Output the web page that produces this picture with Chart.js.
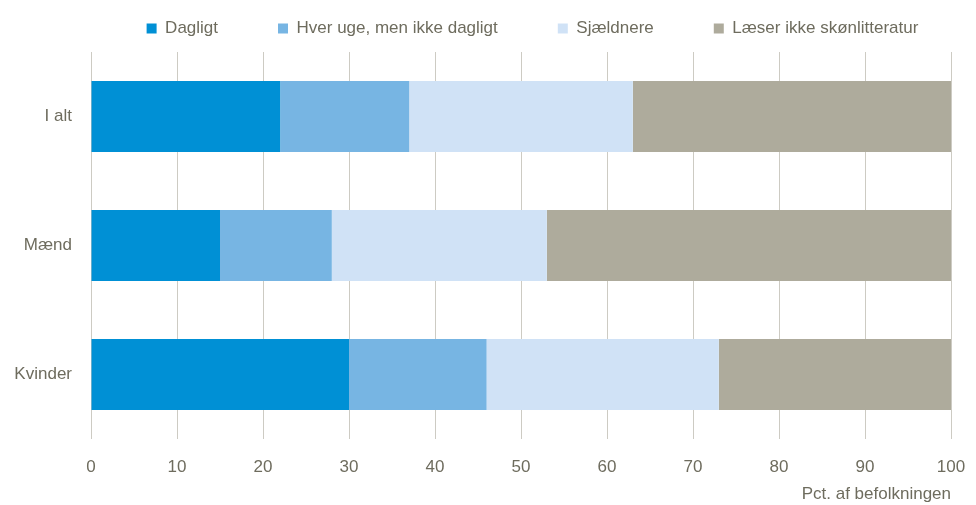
<!DOCTYPE html>
<html>
<head>
<meta charset="utf-8">
<script src="https://cdn.jsdelivr.net/npm/chart.js@4"></script>
<style>
  html, body { margin: 0; padding: 0; background: #fff; }
  #wrap { width: 976px; height: 505px; }
</style>
</head>
<body>
<div id="wrap"><canvas id="chart"></canvas></div>
<script>
const categories = ["I alt", "Mænd", "Kvinder"];
const seriesNames = ["Dagligt", "Hver uge, men ikke dagligt", "Sjældnere", "Læser ikke skønlitteratur"];
const dagligt = [22, 15, 30];
const hverUge = [15, 13, 16];
const sjaeldnere = [26, 25, 27];
const laeserIkke = [37, 47, 27];
const xTicks = [0, 10, 20, 30, 40, 50, 60, 70, 80, 90, 100];

const colors = ["#0090d5", "#77b5e3", "#d0e2f6", "#aeab9c"];
const textColor = "#6e6c5e";
const fontFamily = "'Liberation Sans Narrow', 'Arial Narrow', 'Liberation Sans', sans-serif";

Chart.defaults.font.family = fontFamily;
Chart.defaults.font.size = 17;
Chart.defaults.color = textColor;

const values = [dagligt, hverUge, sjaeldnere, laeserIkke];

// nudge the legend so it sits like in the original
const legendShift = {
  id: "legendShift",
  afterLayout: (chart) => {
    const lg = chart.legend;
    lg.left += 57;
    lg.right += 57;
    lg.top -= 5;
    lg.bottom -= 5;
  },
};

const ctx = document.getElementById("chart");

new Chart(ctx, {
  type: "bar",
  data: {
    labels: categories,
    datasets: seriesNames.map((name, i) => ({
      label: name,
      data: values[i],
      backgroundColor: colors[i],
      borderWidth: 0,
      barPercentage: 0.55,
      categoryPercentage: 1,
    })),
  },
  plugins: [legendShift],
  options: {
    indexAxis: "y",
    responsive: true,
    maintainAspectRatio: false,
    animation: false,
    layout: { padding: { top: -35, right: 25, left: 0, bottom: 0 } },
    plugins: {
      tooltip: { enabled: false },
      legend: {
        position: "top",
        labels: {
          boxWidth: 10,
          boxHeight: 10,
          padding: 60,
          color: textColor,
          font: { size: 17 },
        },
      },
    },
    scales: {
      x: {
        stacked: true,
        min: 0,
        max: 100,
        afterBuildTicks: (axis) => {
          axis.ticks = xTicks.map((v) => ({ value: v }));
        },
        afterFit: (axis) => {
          axis.height = 66;
          axis.paddingLeft = 0;
          axis.paddingRight = 0;
        },
        grid: { color: "#cdcbc3", drawTicks: false },
        border: { display: false },
        ticks: { padding: 18, color: textColor },
        title: {
          display: true,
          text: "Pct. af befolkningen",
          align: "end",
          color: textColor,
          font: { size: 17 },
          padding: { top: 0, bottom: 0 },
        },
      },
      y: {
        stacked: true,
        afterFit: (axis) => {
          axis.width = 91;
        },
        grid: { display: false, drawTicks: false },
        border: { display: false },
        ticks: { padding: 19, color: textColor },
      },
    },
  },
});
</script>
</body>
</html>
